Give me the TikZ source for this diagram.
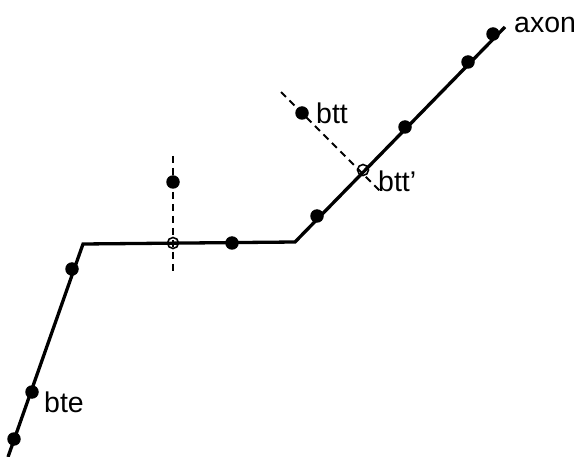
\documentclass[tikz,border=0pt]{standalone}
\usepackage{fontspec}
\setmainfont{Liberation Sans}
\begin{document}
\begin{tikzpicture}[x=1pt,y=-1pt,
  axonline/.style={line width=3.3pt, line join=miter},
  dotfill/.style={circle, fill=black, inner sep=0pt, minimum size=13.5pt},
  dotopen/.style={circle, draw=black, line width=1.6pt, inner sep=0pt, minimum size=11pt},
  guide/.style={line width=1.9pt, dash pattern=on 7pt off 5pt},
  lbl/.style={font=\fontsize{28.5}{33}\selectfont, inner sep=0pt}]
\useasboundingbox (0,0) rectangle (576,457);
% path coordinates
\coordinate (s) at (8,457);
\coordinate (c1) at (83,244);
\coordinate (c2) at (295,242);
\coordinate (e) at (505,27);
% guide lines
\coordinate (g1a) at (173,156);
\coordinate (g1b) at (173,273);
\coordinate (g2a) at (281,92);
\coordinate (g2b) at (380,191);
\draw[guide] (g1a) -- (g1b);
\draw[guide] (g2a) -- (g2b);
% main line
\draw[axonline] (s) -- (c1) -- (c2) -- (e);
% dots
\node[dotfill] (d1) at (14,439) {};
\node[dotfill] (d2) at (32,392) {};
\node[dotfill] (d3) at (72,269) {};
\node[dotopen] (o1) at (173,243) {};
\node[dotfill] (d4) at (173,182) {};
\node[dotfill] (d5) at (232,243) {};
\node[dotfill] (d6) at (317,216) {};
\node[dotopen] (o2) at (363,170) {};
\node[dotfill] (d7) at (405,127) {};
\node[dotfill] (d8) at (468,62) {};
\node[dotfill] (d9) at (493,34) {};
\node[dotfill] (btt) at (302,113) {};
% labels
\node[lbl, anchor=west] (lbte) at (44,402) {bte};
\node[lbl, anchor=west] (lbtt) at (316,113) {btt};
\node[lbl, anchor=west] (lbttp) at (378,181) {btt'};
\node[lbl, anchor=west] (laxon) at (514,25) {axon};
\end{tikzpicture}
\end{document}
